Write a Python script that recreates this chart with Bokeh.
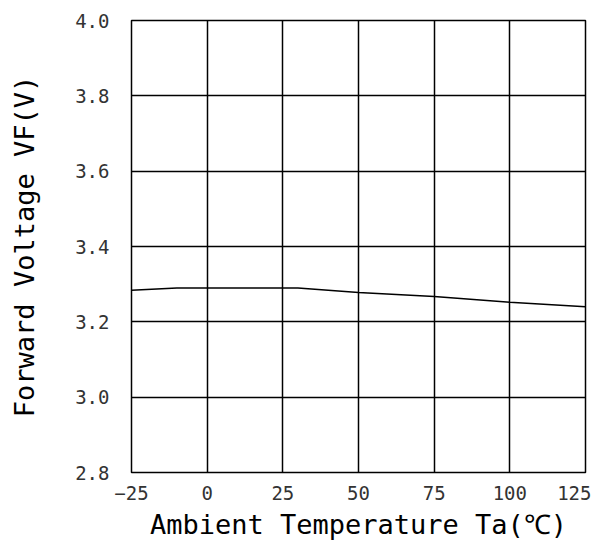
from bokeh.plotting import figure
from bokeh.models import Range1d, FixedTicker, PrintfTickFormatter
from bokeh.embed import file_html
from bokeh.resources import INLINE

# Data
temp_c = [-25, -10, 0, 25, 30, 50, 75, 100, 125]
vf_volts = [3.284, 3.290, 3.290, 3.290, 3.290, 3.278, 3.267, 3.252, 3.240]
x_ticks = [-25, 0, 25, 50, 75, 100, 125]
y_ticks = [2.8, 3.0, 3.2, 3.4, 3.6, 3.8, 4.0]
x_title = "Ambient Temperature Ta(℃)"
y_title = "Forward Voltage VF(V)"

FONT = "DejaVu Sans Mono"

p = figure(width=591, height=542, output_backend="svg", toolbar_location=None,
           x_range=Range1d(-25, 125), y_range=Range1d(2.8, 4.0),
           min_border_left=131, min_border_right=6, min_border_top=20, min_border_bottom=69)

p.line(temp_c, vf_volts, line_color="black", line_width=1.5)

p.xaxis.ticker = FixedTicker(ticks=x_ticks)
p.yaxis.ticker = FixedTicker(ticks=y_ticks)
p.yaxis.formatter = PrintfTickFormatter(format="%.1f")

for ax in (p.xaxis[0], p.yaxis[0]):
    ax.axis_line_color = None
    ax.major_tick_line_color = None
    ax.minor_tick_line_color = None
    ax.major_label_text_font = FONT
    ax.major_label_text_font_size = "19px"
    ax.major_label_text_color = "#333333"
    ax.axis_label_text_font = FONT
    ax.axis_label_text_font_size = "27px"
    ax.axis_label_text_font_style = "normal"
    ax.axis_label_text_color = "black"

p.xaxis.axis_label = x_title
p.yaxis.axis_label = y_title
p.yaxis.major_label_standoff = 16
p.xaxis.major_label_standoff = 7
p.yaxis.axis_label_standoff = 32
p.xaxis.axis_label_standoff = 6

for g in (p.xgrid[0], p.ygrid[0]):
    g.grid_line_color = "black"
    g.grid_line_width = 1.5
    g.grid_line_alpha = 1.0

p.outline_line_color = "black"
p.outline_line_width = 1.5
p.outline_line_alpha = 1.0

open("out.html", "w").write(file_html(p, INLINE))
